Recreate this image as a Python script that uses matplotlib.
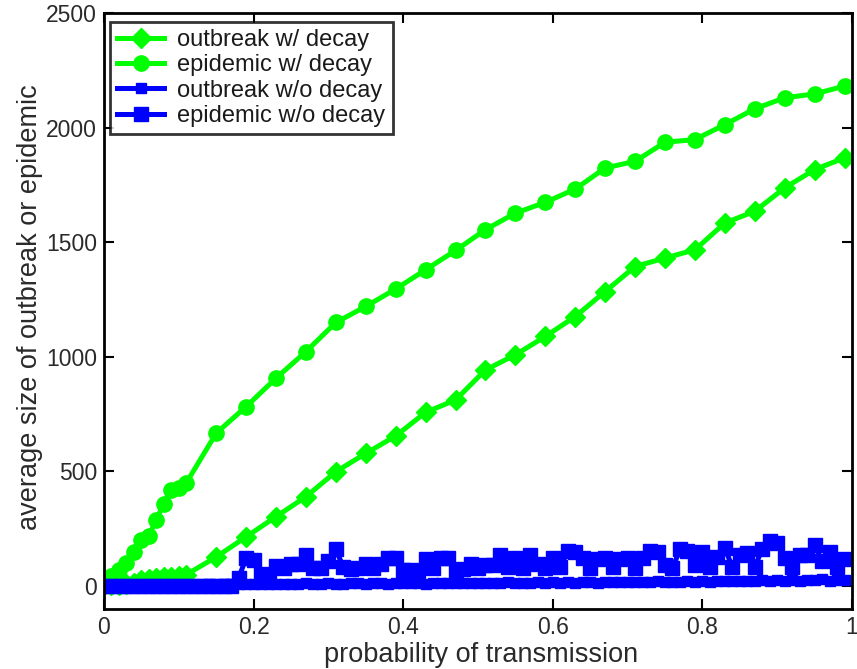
import numpy as np
import matplotlib
matplotlib.use("Agg")
import matplotlib.pyplot as plt

plt.rcParams['font.family'] = ['Liberation Sans', 'DejaVu Sans']

# x positions for the "with decay" runs (dense at start, then every 0.04)
x_decay = [0.00, 0.01, 0.02, 0.03, 0.04, 0.05, 0.06, 0.07, 0.08, 0.09, 0.10, 0.11,
           0.15, 0.19, 0.23, 0.27, 0.31, 0.35, 0.39, 0.43, 0.47, 0.51, 0.55, 0.59,
           0.63, 0.67, 0.71, 0.75, 0.79, 0.83, 0.87, 0.91, 0.95, 0.99]
outbreak_decay = [5, 5, 5, 10, 15, 25, 30, 35, 40, 40, 45, 50,
                  127, 215, 303, 390, 499, 579, 655, 758, 812, 943, 1009, 1089,
                  1176, 1285, 1394, 1431, 1467, 1584, 1635, 1737, 1817, 1868]
epidemic_decay = [30, 45, 70, 100, 150, 200, 220, 290, 360, 420, 430, 450,
                  667, 783, 907, 1023, 1150, 1220, 1296, 1380, 1464, 1555, 1627, 1674,
                  1732, 1824, 1853, 1936, 1948, 2013, 2082, 2130, 2147, 2181]

# x positions for the "without decay" runs (every 0.01)
x_nodecay = [round(0.01 * i, 2) for i in range(100)]
outbreak_nodecay = [2, 3, 3, 4, 3, 4, 5, 4, 5, 5,
                    5, 6, 5, 6, 7, 6, 7, 8, 7, 8,
                    8, 9, 10, 8, 11, 10, 9, 12, 10, 11,
                    12, 10, 11, 13, 12, 9, 12, 13, 11, 12,
                    13, 12, 14, 11, 13, 12, 14, 13, 12, 14,
                    13, 15, 14, 12, 16, 14, 15, 13, 16, 15,
                    16, 14, 17, 15, 16, 18, 15, 17, 16, 18,
                    17, 19, 16, 18, 20, 17, 19, 18, 20, 19,
                    21, 19, 22, 20, 23, 21, 24, 22, 25, 23,
                    26, 22, 27, 24, 28, 25, 29, 24, 27, 26]
epidemic_nodecay = [0, 0, 0, 0, 0, 0, 0, 0, 0, 0,
                    0, 0, 0, 0, 0, 0, 0, 0, 36, 122,
                    115, 52, 48, 87, 78, 97, 97, 134, 80, 80,
                    109, 160, 82, 73, 78, 97, 78, 97, 124, 124,
                    70, 72, 65, 118, 80, 124, 124, 65, 74, 97,
                    80, 92, 90, 134, 82, 122, 80, 134, 97, 80,
                    124, 82, 153, 150, 124, 80, 117, 124, 82, 118,
                    124, 80, 124, 153, 150, 90, 78, 160, 155, 90,
                    148, 82, 128, 167, 82, 134, 143, 85, 160, 196,
                    190, 124, 82, 134, 134, 178, 110, 148, 82, 118]

labels = ['outbreak w/ decay', 'epidemic w/ decay',
          'outbreak w/o decay', 'epidemic w/o decay']

W, H = 857, 669
fig = plt.figure(figsize=(W / 100, H / 100), dpi=100)
L, R, T, B = 104, 852, 13, 609
ax = fig.add_axes([L / W, (H - B) / H, (R - L) / W, (B - T) / H])

green = (0, 1, 0)
blue = (0, 0, 1)
lw = 3.6
ax.plot(x_decay, outbreak_decay, color=green, lw=lw, marker='D', ms=10,
        mec=green, mfc=green, label=labels[0])
ax.plot(x_decay, epidemic_decay, color=green, lw=lw, marker='o', ms=11,
        mec=green, mfc=green, label=labels[1])
ax.plot(x_nodecay, outbreak_nodecay, color=blue, lw=lw, marker='s', ms=7,
        mec=blue, mfc=blue, label=labels[2])
ax.plot(x_nodecay, epidemic_nodecay, color=blue, lw=lw, marker='s', ms=10.5,
        mec=blue, mfc=blue, label=labels[3])

ax.set_xlim(0, 1)
ax.set_ylim(-100, 2500)
ax.set_xticks([0, 0.2, 0.4, 0.6, 0.8, 1])
ax.set_xticklabels(['0', '0.2', '0.4', '0.6', '0.8', '1'])
ax.set_yticks([0, 500, 1000, 1500, 2000, 2500])
ax.tick_params(direction='in', length=7, width=1.5, top=True, right=True,
               labelsize=16.5, colors='black', pad=5)
for tl in ax.get_xticklabels() + ax.get_yticklabels():
    tl.set_color('#2a2a2a')
for s in ax.spines.values():
    s.set_linewidth(2)

ax.set_xlabel('probability of transmission', fontsize=19.5, color='#2a2a2a')
ax.set_ylabel('average size of outbreak or epidemic', fontsize=19.5, color='#2a2a2a')
ax.xaxis.label.set_va('center')
ax.yaxis.label.set_va('center')
ax.xaxis.set_label_coords((481 - L) / (R - L), (B - 655) / (B - T))
ax.yaxis.set_label_coords((30 - L) / (R - L), (B - 307) / (B - T))

leg = ax.legend(loc='upper left', bbox_to_anchor=((110 - L) / (R - L), (B - 22) / (B - T)),
                fontsize=17, frameon=True, fancybox=False,
                edgecolor='black', borderpad=0.3, labelspacing=0.14,
                handlelength=2.0, handletextpad=0.55, borderaxespad=0.0)
leg.get_frame().set_linewidth(2)
for t in leg.get_texts():
    t.set_color('#1a1a1a')

fig.savefig('out.png', dpi=100, facecolor='white')
